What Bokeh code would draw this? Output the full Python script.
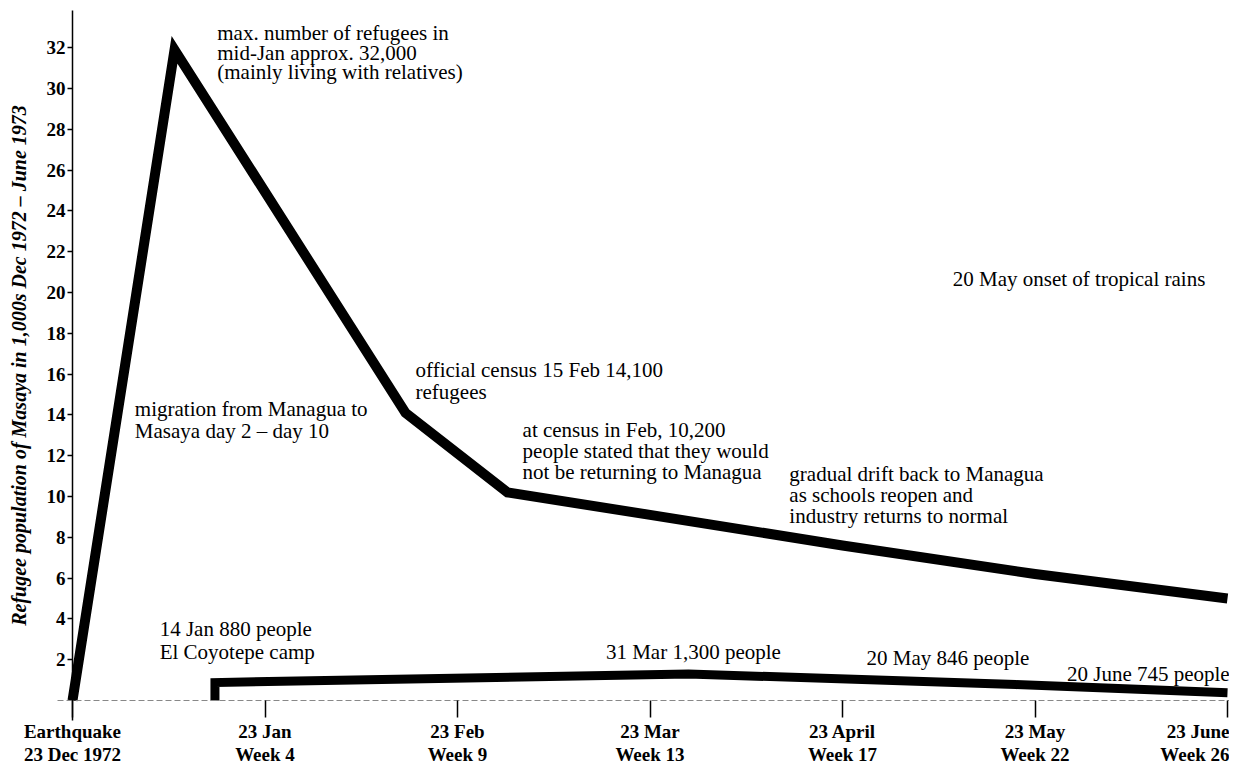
from bokeh.plotting import figure
from bokeh.models import Range1d, FixedTicker, ColumnDataSource, Label
from bokeh.core.properties import value
from bokeh.embed import file_html
from bokeh.resources import INLINE

# ---- axis ticks (x = months after the earthquake of 23 Dec 1972) ----
tick_months = [0, 1, 2, 3, 4, 5, 6]
tick_dates = ["Earthquake", "23 Jan", "23 Feb", "23 Mar", "23 April", "23 May", "23 June"]
tick_weeks = ["23 Dec 1972", "Week 4", "Week 9", "Week 13", "Week 17", "Week 22", "Week 26"]
y_ticks = [2, 4, 6, 8, 10, 12, 14, 16, 18, 20, 22, 24, 26, 28, 30, 32]

# ---- refugee population of Masaya (thousands) ----
refugee_month = [0, 0.53, 1.73, 2.26, 3, 4, 5, 6]
refugee_thousands = [0, 31.9, 14.1, 10.2, 9.1, 7.6, 6.2, 5.0]

# ---- El Coyotepe camp (thousands) ----
camp_month = [0.74, 0.74, 3.2, 4.9, 6.0]
camp_thousands = [0, 0.88, 1.3, 0.78, 0.38]

# ---- annotations: anchor month, anchor value, line spacing (px), lines ----
note_month = [0.752, 0.324, 1.782, 2.338, 3.724, 4.573, 0.453, 2.771, 4.125, 5.166]
note_value = [32.71, 14.28, 16.21, 13.27, 11.10, 20.65, 3.52, 2.36, 2.07, 1.30]
note_spacing = [19.5, 22, 22, 21, 21, 21, 23, 21, 21, 21]
note_text = [
    ["max. number of refugees in", "mid-Jan approx. 32,000", "(mainly living with relatives)"],
    ["migration from Managua to", "Masaya day 2 \u2013 day 10"],
    ["official census 15 Feb 14,100", "refugees"],
    ["at census in Feb, 10,200", "people stated that they would", "not be returning to Managua"],
    ["gradual drift back to Managua", "as schools reopen and", "industry returns to normal"],
    ["20 May onset of tropical rains"],
    ["14 Jan 880 people", "El Coyotepe camp"],
    ["31 Mar 1,300 people"],
    ["20 May 846 people"],
    ["20 June 745 people"],
]

W, H = 1229, 765
LEFT = 72                   # canvas column of the y axis
PX_PER_UNIT = 20.4          # vertical scale
PX_PER_MONTH = 192.5        # horizontal scale
ZERO_Y = 700                # canvas row of the zero line
Y1 = ZERO_Y / PX_PER_UNIT
Y0 = (ZERO_Y - H) / PX_PER_UNIT
X0 = -LEFT / PX_PER_MONTH
X1 = (W - LEFT) / PX_PER_MONTH

p = figure(width=W, height=H, output_backend="svg", toolbar_location=None,
           x_range=Range1d(X0, X1), y_range=Range1d(Y0, Y1),
           min_border_left=0, min_border_top=0, min_border_right=0, min_border_bottom=0)
p.outline_line_color = None
p.xgrid.visible = False
p.ygrid.visible = False
p.background_fill_color = "white"

serif = "Liberation Serif"

# y axis, drawn at month 0
ya = p.yaxis[0]
ya.fixed_location = 0
ya.ticker = FixedTicker(ticks=y_ticks)
ya.bounds = (-1.0, (ZERO_Y - 10) / PX_PER_UNIT)
ya.axis_line_color = "black"
ya.axis_line_width = 1.5
ya.major_tick_in = 0
ya.major_tick_out = 5
ya.major_tick_line_width = 1.5
ya.minor_tick_line_color = None
ya.major_label_standoff = 2
ya.major_label_text_font = serif
ya.major_label_text_font_style = "bold"
ya.major_label_text_font_size = "19px"
ya.major_label_text_color = "black"
ya.axis_label = "Refugee population of Masaya in 1,000s Dec 1972 \u2013 June 1973"
ya.axis_label_text_font = serif
ya.axis_label_text_font_style = "bold italic"
ya.axis_label_text_font_size = "20px"
ya.axis_label_standoff = 14
ya.axis_label_text_color = "black"

# x axis, drawn on the zero line
xa = p.xaxis[0]
xa.fixed_location = 0
xa.ticker = FixedTicker(ticks=tick_months)
xa.bounds = (-15 / PX_PER_MONTH, X1)
overrides = {}
for m, d, w in zip(tick_months, tick_dates, tick_weeks):
    overrides[m] = "" if m == tick_months[-1] else d + "\n" + w
xa.major_label_overrides = overrides
xa.axis_line_color = "#888888"
xa.axis_line_dash = "6 3"
xa.axis_line_width = 1
xa.major_tick_in = 0
xa.major_tick_out = 17
xa.major_tick_line_width = 1.5
xa.major_tick_line_color = "black"
xa.minor_tick_line_color = None
xa.major_label_standoff = 3
xa.major_label_text_font = serif
xa.major_label_text_font_style = "bold"
xa.major_label_text_font_size = "19px"
xa.major_label_text_line_height = 1.1
xa.major_label_text_color = "black"

# last tick label, right aligned at the final tick
p.add_layout(Label(x=tick_months[-1], y=-20 / PX_PER_UNIT, x_units="data", y_units="data",
                   x_offset=2, text=tick_dates[-1] + "\n" + tick_weeks[-1], text_align="right",
                   text_baseline="top", text_font=serif, text_font_style="bold",
                   text_font_size="19px", text_line_height=1.1, text_color="black"))

# lines
p.line(refugee_month, refugee_thousands, line_color="black", line_width=10,
       line_join="miter", line_cap="butt")
p.line(camp_month, camp_thousands, line_color="black", line_width=9,
       line_join="miter", line_cap="butt")

# annotations
rows_x, rows_y, rows_t = [], [], []
for mx, vy, sp, lines in zip(note_month, note_value, note_spacing, note_text):
    for i, t in enumerate(lines):
        rows_x.append(mx)
        rows_y.append(vy - i * sp / PX_PER_UNIT)
        rows_t.append(t)
src = ColumnDataSource(dict(x=rows_x, y=rows_y, t=rows_t))
p.text(x="x", y="y", text="t", source=src, text_font=value(serif),
       text_font_size="21px", text_baseline="middle", text_align="left", text_color="black")

open("out.html", "w").write(file_html(p, INLINE))
